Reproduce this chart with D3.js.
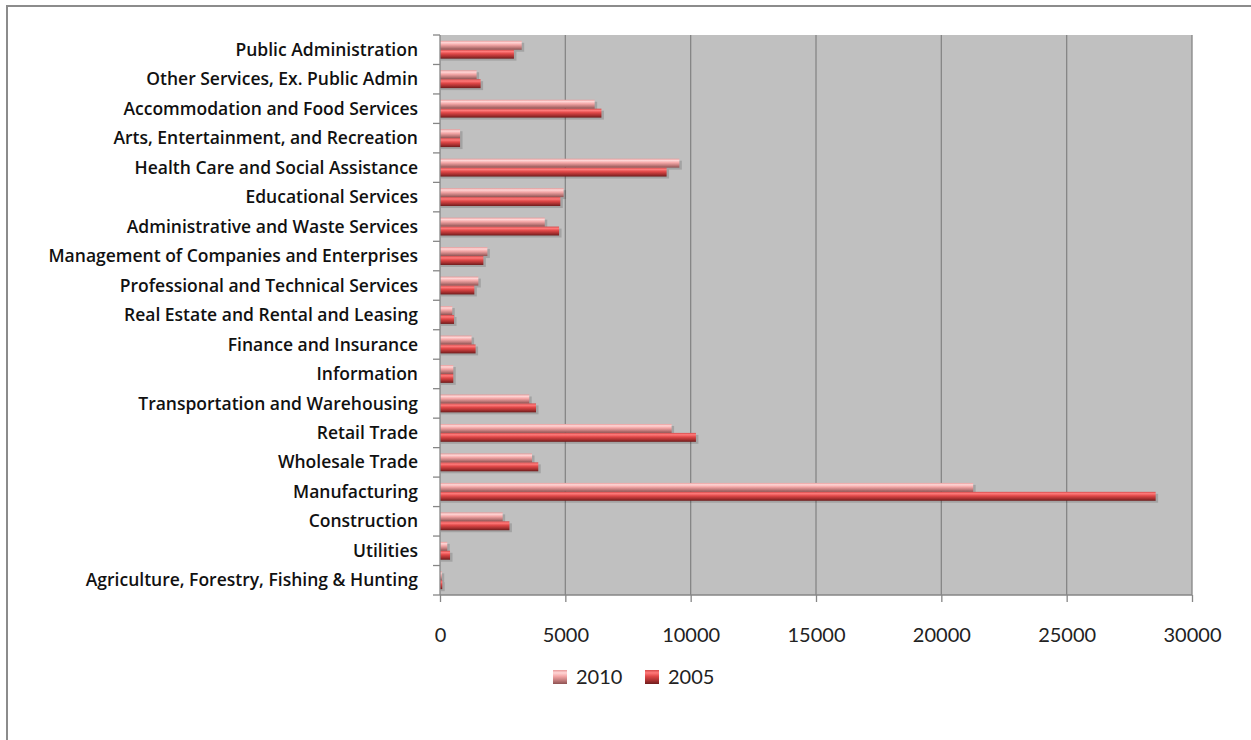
<!DOCTYPE html>
<html>
<head>
<meta charset="utf-8">
<script src="https://cdn.jsdelivr.net/npm/d3@7"></script>
<style>
  body { margin: 0; background: #fff; }
  svg text { font-family: Lato, "Open Sans", sans-serif; }
</style>
</head>
<body>
<div id="chart"></div>
<script>
// categories, bottom to top as in the picture
const industries = [
  "Agriculture, Forestry, Fishing & Hunting",
  "Utilities",
  "Construction",
  "Manufacturing",
  "Wholesale Trade",
  "Retail Trade",
  "Transportation and Warehousing",
  "Information",
  "Finance and Insurance",
  "Real Estate and Rental and Leasing",
  "Professional and Technical Services",
  "Management of Companies and Enterprises",
  "Administrative and Waste Services",
  "Educational Services",
  "Health Care and Social Assistance",
  "Arts, Entertainment, and Recreation",
  "Accommodation and Food Services",
  "Other Services, Ex. Public Admin",
  "Public Administration"
];
const values2010 = [70, 290, 2500, 21270, 3670, 9240, 3560, 530, 1260, 490, 1530, 1890, 4180, 4930, 9550, 800, 6170, 1460, 3260];
const values2005 = [90, 400, 2770, 28550, 3920, 10210, 3830, 530, 1420, 560, 1370, 1730, 4750, 4800, 9040, 800, 6440, 1620, 2950];
const seriesNames = ["2010", "2005"];
const xTicks = [0, 5000, 10000, 15000, 20000, 25000, 30000];

const W = 1251, H = 740;
const plot = { left: 440, top: 35, width: 752, height: 560 };

const svg = d3.select("#chart").append("svg")
  .attr("width", W).attr("height", H);

// gradients for the shiny bars
const defs = svg.append("defs");
function grad(id, stops) {
  const g = defs.append("linearGradient").attr("id", id)
    .attr("x1", 0).attr("y1", 0).attr("x2", 0).attr("y2", 1);
  stops.forEach(s => g.append("stop").attr("offset", s[0]).attr("stop-color", s[1]));
}
grad("g2010", [[0, "#e89a9a"], [0.2, "#ffd6d6"], [0.45, "#f4a7a7"], [0.75, "#c07a7a"], [1, "#8e5252"]]);
grad("g2005", [[0, "#d64a4a"], [0.2, "#ff7a7a"], [0.45, "#e04848"], [0.75, "#a83030"], [1, "#6e1c1c"]]);
const fills = { "2010": "url(#g2010)", "2005": "url(#g2005)" };

// chart border (only top and left show)
svg.append("path")
  .attr("d", `M7,${H} V6 H${W}`)
  .attr("fill", "none").attr("stroke", "#8c8c8c").attr("stroke-width", 2);

const x = d3.scaleLinear().domain([0, 30000]).range([plot.left, plot.left + plot.width]);
const y = d3.scaleBand().domain(industries.slice().reverse())
  .range([plot.top, plot.top + plot.height]).padding(0);
const inner = d3.scaleBand().domain(seriesNames)
  .range([0, y.bandwidth()]).paddingInner(0).paddingOuter(0.65);

// plot background
svg.append("rect")
  .attr("x", plot.left).attr("y", plot.top)
  .attr("width", plot.width).attr("height", plot.height)
  .attr("fill", "#c0c0c0");

// gridlines
svg.append("g").selectAll("line")
  .data(xTicks.slice(1))
  .join("line")
  .attr("x1", d => x(d)).attr("x2", d => x(d))
  .attr("y1", plot.top).attr("y2", plot.top + plot.height)
  .attr("stroke", "#868686").attr("stroke-width", 1.3);

// bars
const rows = industries.map((name, i) => ({ name, "2010": values2010[i], "2005": values2005[i] }));
const groups = svg.append("g").selectAll("g")
  .data(rows)
  .join("g")
  .attr("transform", d => `translate(0,${y(d.name)})`);

// soft shadow
groups.selectAll("rect.shadow")
  .data(d => seriesNames.map(s => ({ s, v: d[s] })))
  .join("rect")
  .attr("class", "shadow")
  .attr("x", x(0) + 1)
  .attr("y", d => inner(d.s) + 2)
  .attr("width", d => Math.max(0, x(d.v) - x(0)) + 1.5)
  .attr("height", inner.bandwidth())
  .attr("fill", "#000").attr("opacity", 0.15);

groups.selectAll("rect.bar")
  .data(d => seriesNames.map(s => ({ s, v: d[s] })))
  .join("rect")
  .attr("class", "bar")
  .attr("x", x(0))
  .attr("y", d => inner(d.s))
  .attr("width", d => x(d.v) - x(0))
  .attr("height", inner.bandwidth())
  .attr("fill", d => fills[d.s]);

// axis lines
svg.append("line")
  .attr("x1", plot.left).attr("x2", plot.left)
  .attr("y1", plot.top).attr("y2", plot.top + plot.height)
  .attr("stroke", "#868686").attr("stroke-width", 1.3);
svg.append("line")
  .attr("x1", plot.left).attr("x2", plot.left + plot.width)
  .attr("y1", plot.top + plot.height).attr("y2", plot.top + plot.height)
  .attr("stroke", "#868686").attr("stroke-width", 1.3);

// y tick marks between categories
const bounds = industries.map(n => y(n)).concat([plot.top + plot.height]);
svg.append("g").selectAll("line")
  .data(bounds)
  .join("line")
  .attr("x1", plot.left - 7).attr("x2", plot.left)
  .attr("y1", d => d).attr("y2", d => d)
  .attr("stroke", "#868686").attr("stroke-width", 1.3);

// category labels
svg.append("g").selectAll("text")
  .data(industries)
  .join("text")
  .attr("x", plot.left - 22)
  .attr("y", d => y(d) + y.bandwidth() / 2)
  .attr("dy", "0.35em")
  .attr("text-anchor", "end")
  .attr("font-size", 17.5)
  .attr("font-weight", 600)
  .style("font-family", "'Open Sans', sans-serif")
  .attr("fill", "#111")
  .text(d => d);

// x axis
const xAxis = svg.append("g")
  .attr("transform", `translate(0,${plot.top + plot.height})`)
  .call(d3.axisBottom(x).tickValues(xTicks).tickFormat(d3.format("d")).tickSize(7).tickPadding(26));
xAxis.select(".domain").remove();
xAxis.selectAll("line").attr("stroke", "#868686").attr("stroke-width", 1.3);
xAxis.selectAll("text")
  .attr("font-size", 20).attr("fill", "#222")
  .style("font-family", "Lato, 'Open Sans', sans-serif");

// legend
const legend = svg.append("g").attr("transform", "translate(553,677)");
const legendX = { "2010": 0, "2005": 92 };
seriesNames.forEach(s => {
  const g = legend.append("g").attr("transform", `translate(${legendX[s]},0)`);
  g.append("rect").attr("x", 0).attr("y", -7).attr("width", 14).attr("height", 14)
    .attr("fill", fills[s]);
  g.append("text").attr("x", 23).attr("y", 0).attr("dy", "0.35em")
    .attr("font-size", 20).attr("fill", "#222").text(s);
});
</script>
</body>
</html>
